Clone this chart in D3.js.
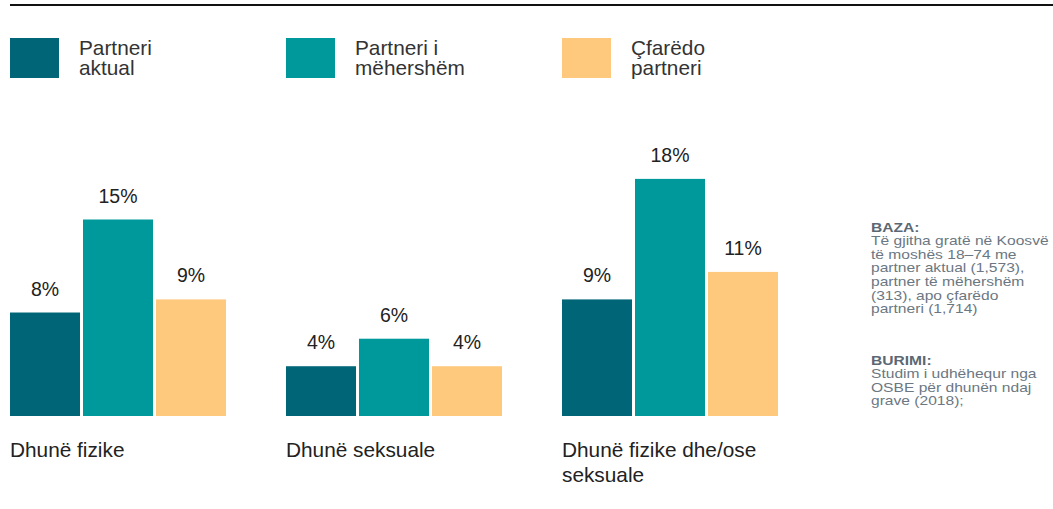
<!DOCTYPE html>
<html>
<head>
<meta charset="utf-8">
<script src="https://cdn.jsdelivr.net/npm/d3@7"></script>
<style>
  html, body { margin: 0; padding: 0; background: #fff; }
  svg { display: block; font-family: "Liberation Sans", Arial, sans-serif; }
</style>
</head>
<body>
<div id="chart"></div>
<script>
// ---- Data ----
const categories = ["Dhunë fizike", "Dhunë seksuale", "Dhunë fizike dhe/ose seksuale"];
const categoryLines = [["Dhunë fizike"], ["Dhunë seksuale"], ["Dhunë fizike dhe/ose", "seksuale"]];
const seriesNames = ["Partneri aktual", "Partneri i mëhershëm", "Çfarëdo partneri"];
const seriesLegendLines = [["Partneri", "aktual"], ["Partneri i", "mëhershëm"], ["Çfarëdo", "partneri"]];
const partnerAktual = [7.9, 3.8, 8.9];
const partnerMehershem = [15.0, 5.9, 18.1];
const cfaredoPartneri = [8.9, 3.8, 11.0];
const valueLabels = [["8%", "15%", "9%"], ["4%", "6%", "4%"], ["9%", "18%", "11%"]];
const colors = ["#006677", "#00999b", "#fec87d"];
const noteBazaTitle = "BAZA:";
const noteBaza = ["Të gjitha gratë në Koosvë", "të moshës 18–74 me", "partner aktual (1,573),", "partner të mëhershëm", "(313), apo çfarëdo", "partneri (1,714)"];
const noteBurimiTitle = "BURIMI:";
const noteBurimi = ["Studim i udhëhequr nga", "OSBE për dhunën ndaj", "grave (2018);"];

const seriesValues = [partnerAktual, partnerMehershem, cfaredoPartneri];

const W = 1053, H = 509;
const svg = d3.select("#chart").append("svg").attr("width", W).attr("height", H);

// top rule
svg.append("line").attr("x1", 10).attr("x2", W).attr("y1", 5).attr("y2", 5)
  .attr("stroke", "#111").attr("stroke-width", 2);

// scales
const x0 = d3.scaleBand().domain(categories).range([10, 778]).paddingInner(60 / 276).paddingOuter(0);
const x1 = d3.scaleBand().domain(seriesNames).range([0, x0.bandwidth()]).paddingInner(3 / 73).paddingOuter(0);
const y = d3.scaleLinear().domain([0, 20]).range([416, 154]);
const color = d3.scaleOrdinal().domain(seriesNames).range(colors);

// legend
const leg = svg.append("g");
seriesNames.forEach((s, i) => {
  const lx = x0(categories[i]);
  leg.append("rect").attr("x", lx).attr("y", 38).attr("width", 49).attr("height", 40).attr("fill", color(s));
  const t = leg.append("text").attr("x", lx + 69).attr("y", 54.5)
    .attr("font-size", 20.8).attr("fill", "#333");
  seriesLegendLines[i].forEach((ln, j) => {
    t.append("tspan").attr("x", lx + 69).attr("dy", j === 0 ? 0 : 20.7).text(ln);
  });
});

// bars
const groups = svg.selectAll("g.grp").data(categories).join("g").attr("class", "grp")
  .attr("transform", d => `translate(${x0(d)},0)`);

groups.each(function(cat, ci) {
  const g = d3.select(this);
  const rows = seriesNames.map((s, si) => ({ s, v: seriesValues[si][ci], label: valueLabels[ci][si] }));
  g.selectAll("rect").data(rows).join("rect")
    .attr("x", d => x1(d.s)).attr("width", x1.bandwidth())
    .attr("y", d => y(d.v)).attr("height", d => y(0) - y(d.v))
    .attr("fill", d => color(d.s));
  g.selectAll("text.val").data(rows).join("text").attr("class", "val")
    .attr("x", d => x1(d.s) + x1.bandwidth() / 2).attr("y", d => y(d.v) - 17)
    .attr("text-anchor", "middle").attr("font-size", 19.5).attr("fill", "#222")
    .text(d => d.label);
  const t = g.append("text").attr("x", 0).attr("y", 456.5).attr("font-size", 20.8).attr("fill", "#222");
  categoryLines[ci].forEach((ln, j) => {
    t.append("tspan").attr("x", 0).attr("dy", j === 0 ? 0 : 25).text(ln);
  });
});

// notes
const notes = svg.append("g").attr("transform", "translate(871,0) scale(1.2,1)");
notes.append("text").attr("x", 0).attr("y", 232.3).attr("font-size", 13).attr("font-weight", "bold")
  .attr("fill", "#5b6873").text(noteBazaTitle);
noteBaza.forEach((ln, j) => {
  notes.append("text").attr("x", 0).attr("y", 245 + j * 13.7).attr("font-size", 13)
    .attr("fill", "#6b7782").text(ln);
});
notes.append("text").attr("x", 0).attr("y", 365).attr("font-size", 13).attr("font-weight", "bold")
  .attr("fill", "#5b6873").text(noteBurimiTitle);
noteBurimi.forEach((ln, j) => {
  notes.append("text").attr("x", 0).attr("y", 378 + j * 13.7).attr("font-size", 13)
    .attr("fill", "#6b7782").text(ln);
});
</script>
</body>
</html>
